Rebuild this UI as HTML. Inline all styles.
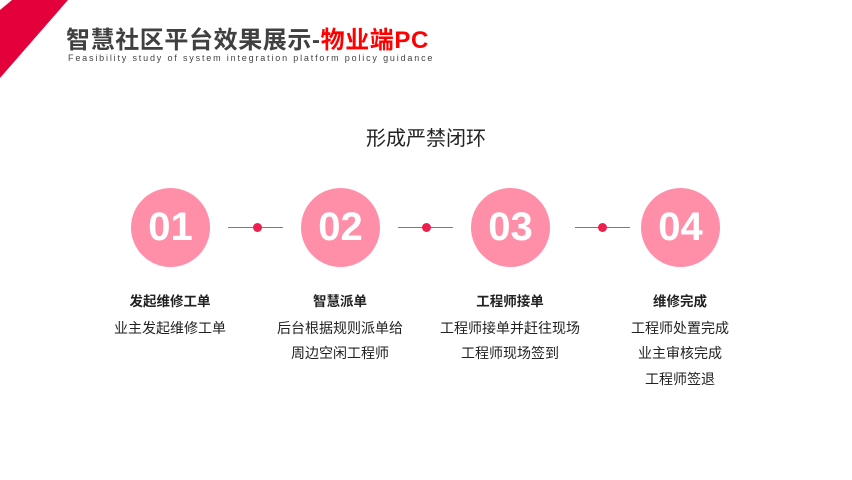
<!DOCTYPE html>
<html><head><meta charset="utf-8"><style>
body{margin:0;width:852px;height:480px;background:#fff;position:relative;overflow:hidden;font-family:"Liberation Sans","Noto Sans CJK SC",sans-serif}
.a{position:absolute}
.t{left:66px;top:20px;font-size:24px;font-weight:bold;color:#404040;white-space:nowrap;letter-spacing:0.6px}
.t span{color:#ff0000}
.s{left:68px;top:53px;font-size:9px;color:#444;letter-spacing:1.83px;white-space:nowrap}
.h{left:0;width:852px;top:122px;text-align:center;font-size:20px;color:#222}
.c{width:79px;height:79px;border-radius:50%;background:#ff8fa9;color:#fff;font-weight:bold;font-size:40px;line-height:79px;text-align:center;top:188px}
.ln{height:1px;background:#f0446b;top:227px;width:55px}
.dt{width:9px;height:9px;border-radius:50%;background:#ee1e4f;top:223px}
.col{width:200px;text-align:center;top:289px;font-size:14px;color:#222;line-height:25.5px}
.col b{display:block;font-size:13.5px;margin-bottom:1px}
</style></head><body>
<svg class="a" style="left:0;top:0" width="80" height="80"><polygon points="0,10 12,0 68,0 0,78" fill="#e4003a"/></svg>
<div class="a t">智慧社区平台效果展示-<span>物业端PC</span></div>
<div class="a s">Feasibility study of system integration platform policy guidance</div>
<div class="a h">形成严禁闭环</div>
<div class="a c" style="left:131px">01</div>
<div class="a c" style="left:301px">02</div>
<div class="a c" style="left:471px">03</div>
<div class="a c" style="left:641px">04</div>
<div class="a ln" style="left:228px"></div><div class="a dt" style="left:253px"></div>
<div class="a ln" style="left:398px"></div><div class="a dt" style="left:422px"></div>
<div class="a ln" style="left:575px"></div><div class="a dt" style="left:598px"></div>
<div class="a col" style="left:70px"><b>发起维修工单</b>业主发起维修工单</div>
<div class="a col" style="left:240px"><b>智慧派单</b>后台根据规则派单给<br>周边空闲工程师</div>
<div class="a col" style="left:410px"><b>工程师接单</b>工程师接单并赶往现场<br>工程师现场签到</div>
<div class="a col" style="left:580px"><b>维修完成</b>工程师处置完成<br>业主审核完成<br>工程师签退</div>
</body></html>
